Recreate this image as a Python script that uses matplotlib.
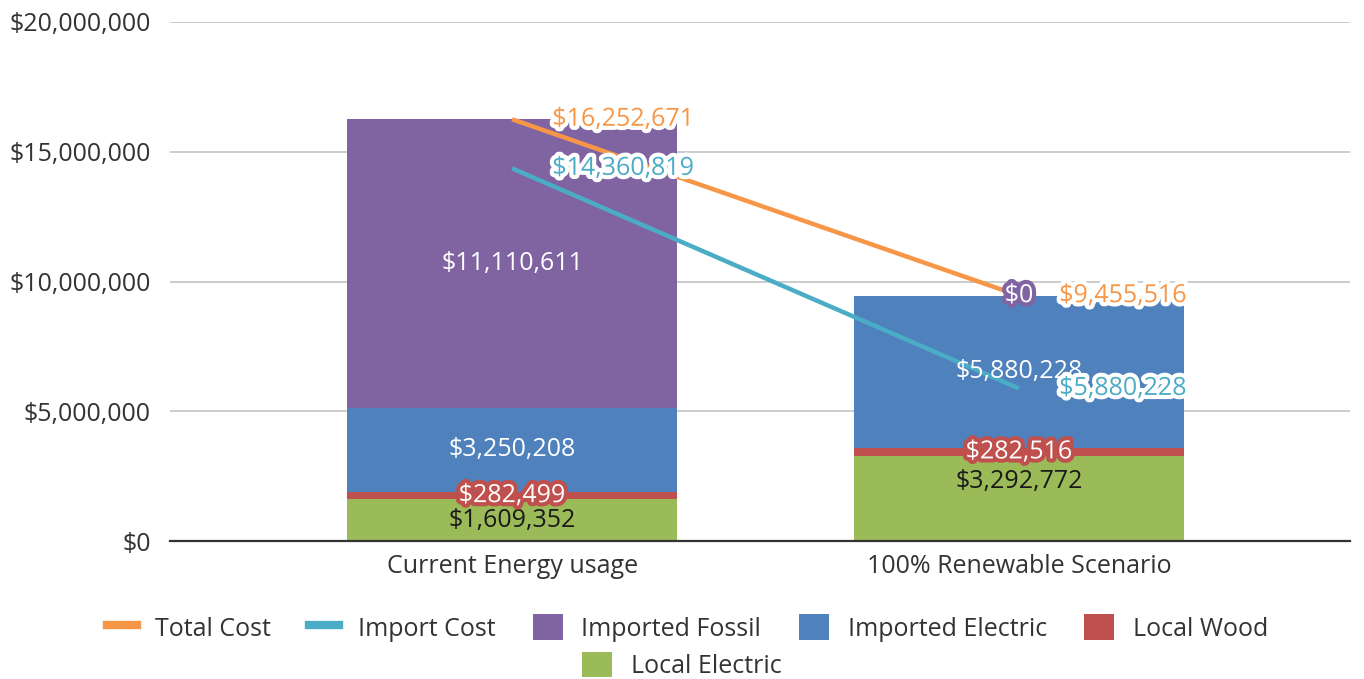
import matplotlib.pyplot as plt
import matplotlib.patheffects as pe
from matplotlib.patches import Patch
from matplotlib.lines import Line2D
from matplotlib.ticker import FuncFormatter

plt.rcParams['font.family'] = ['Open Sans', 'DejaVu Sans']

categories = ["Current Energy usage", "100% Renewable Scenario"]

local_electric = [1609352, 3292772]
local_wood = [282499, 282516]
imported_electric = [3250208, 5880228]
imported_fossil = [11110611, 0]

total_cost = [16252671, 9455516]
import_cost = [14360819, 5880228]

C_ORANGE = "#F79646"
C_TEAL = "#4BACC6"
C_PURPLE = "#8064A2"
C_BLUE = "#4F81BD"
C_RED = "#C0504D"
C_GREEN = "#9BBB59"


def money(v):
    return "${:,.0f}".format(v)


fig = plt.figure(figsize=(13.64, 6.79), dpi=100)
ax = fig.add_axes([0.1246, 0.2032, 0.8651, 0.7644])

x = [0, 1]
width = 0.65
FS = 18

# stacked segments, bottom to top
stack = [
    (local_electric, C_GREEN, "Local Electric"),
    (local_wood, C_RED, "Local Wood"),
    (imported_electric, C_BLUE, "Imported Electric"),
    (imported_fossil, C_PURPLE, "Imported Fossil"),
]
bottoms = [0, 0]
seg_info = []
for vals, col, name in stack:
    ax.bar(x, vals, width, bottom=bottoms, color=col, zorder=2)
    seg_info.append((vals, list(bottoms), col, name))
    bottoms = [b + v for b, v in zip(bottoms, vals)]

ax.plot(x, total_cost, color=C_ORANGE, lw=3.2, zorder=3, solid_capstyle="butt")
ax.plot(x, import_cost, color=C_TEAL, lw=3.2, zorder=3, solid_capstyle="butt")

# segment labels
for vals, bots, col, name in seg_info:
    for i in range(2):
        v = vals[i]
        if name == "Local Electric":
            yc = bots[i] + v / 2
            dy = 12 if i == 1 else 0
            ax.annotate(money(v), (x[i], yc), xytext=(0, dy), textcoords="offset points",
                        ha="center", va="center", fontsize=FS, color="#1a1a1a", zorder=5)
        elif name == "Local Wood":
            ax.annotate(money(v), (x[i], bots[i] + v / 2), ha="center", va="center",
                        fontsize=FS, color="white", zorder=5,
                        path_effects=[pe.withStroke(linewidth=6, foreground=col)])
        elif name == "Imported Fossil" and v == 0:
            ax.annotate(money(v), (x[i], bots[i]), ha="center", va="center",
                        fontsize=FS, color="white", zorder=5,
                        path_effects=[pe.withStroke(linewidth=6, foreground=col)])
        else:
            ax.annotate(money(v), (x[i], bots[i] + v / 2), ha="center", va="center",
                        fontsize=FS, color="white", zorder=5)

# line labels to the right of each point
for vals, col in [(total_cost, C_ORANGE), (import_cost, C_TEAL)]:
    for i in range(2):
        ax.annotate(money(vals[i]), (x[i], vals[i]), xytext=(29, 0),
                    textcoords="offset points", ha="left", va="center",
                    fontsize=FS, color=col, zorder=6,
                    path_effects=[pe.withStroke(linewidth=6, foreground="white")])

ax.set_ylim(0, 20000000)
ax.set_yticks(range(0, 20000001, 5000000))
ax.yaxis.set_major_formatter(FuncFormatter(lambda v, p: money(v)))
ax.set_xlim(-0.675, 1.653)
ax.set_xticks(x)
ax.set_xticklabels(categories)
ax.tick_params(axis="both", length=0, labelsize=FS, colors="#333333")
ax.tick_params(axis="x", pad=9)
ax.tick_params(axis="y", pad=14)
ax.grid(axis="y", color="#C8C8C8", lw=1.3, zorder=0)
ax.set_axisbelow(True)
for s in ["top", "right", "left"]:
    ax.spines[s].set_visible(False)
ax.spines["bottom"].set_color("#333333")
ax.spines["bottom"].set_linewidth(1.6)
ax.spines["bottom"].set_zorder(4)

row1 = [
    Line2D([], [], color=C_ORANGE, lw=6),
    Line2D([], [], color=C_TEAL, lw=6),
    Patch(facecolor=C_PURPLE),
    Patch(facecolor=C_BLUE),
    Patch(facecolor=C_RED),
]
names1 = ["Total Cost", "Import Cost", "Imported Fossil", "Imported Electric", "Local Wood"]
fig.legend(row1, names1, loc="center", bbox_to_anchor=(0.504, 0.075), ncol=5,
           frameon=False, fontsize=FS, handlelength=1.2, handleheight=1.2,
           columnspacing=1.5, handletextpad=0.75, labelcolor="#333333")
fig.legend([Patch(facecolor=C_GREEN)], ["Local Electric"], loc="center",
           bbox_to_anchor=(0.5, 0.02), frameon=False, fontsize=FS,
           handlelength=1.2, handleheight=1.2, handletextpad=0.75, labelcolor="#333333")

fig.savefig("out.png", dpi=100)
